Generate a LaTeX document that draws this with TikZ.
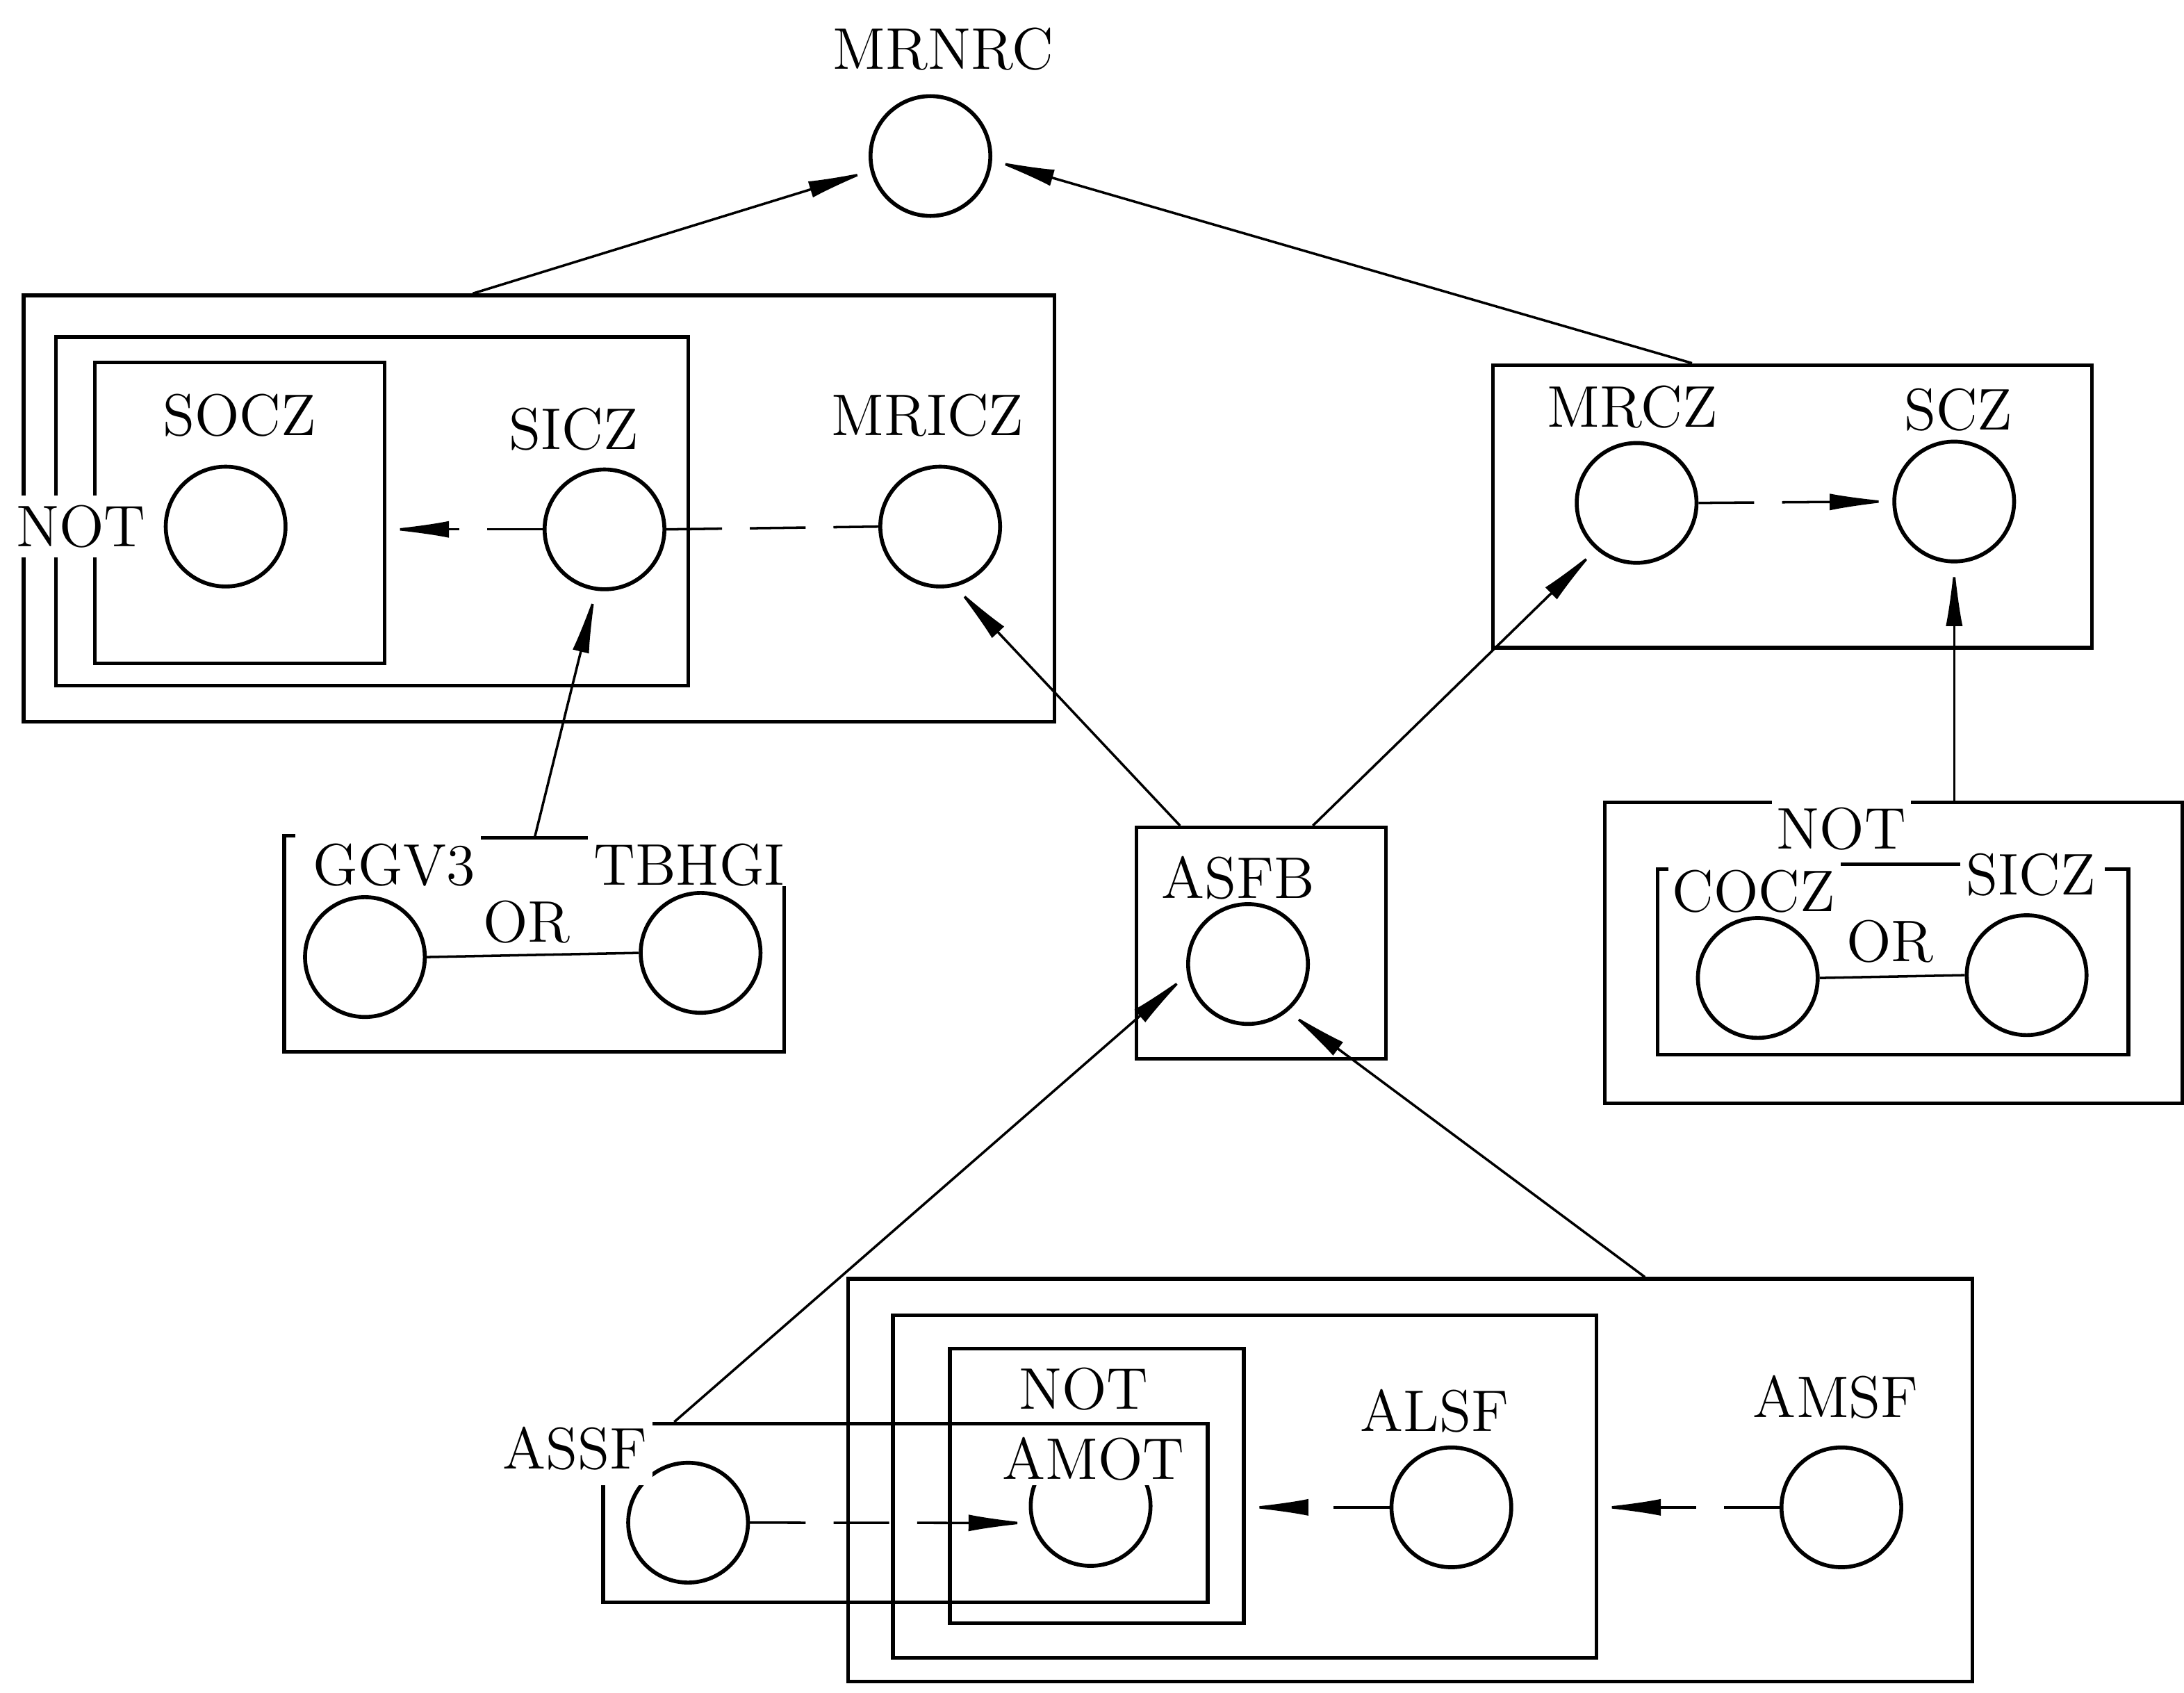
\documentclass[tikz,border=0pt]{standalone}
\usepackage{tikz}
\usetikzlibrary{calc,arrows.meta}

\begin{document}
\begin{tikzpicture}[
    unit/.style={circle, draw, line width=0.8pt, minimum size=8.6mm, inner sep=0pt},
    frame/.style={draw, line width=0.75pt, inner sep=0pt},
    tag/.style={font=\fontsize{12}{14}\selectfont, inner sep=1pt},
    mask/.style={tag, fill=white},
    link/.style={line width=0.5pt},
    dlink/.style={link, dash pattern=on 4mm off 2mm},
    tip/.style={-{Latex[length=4.5mm,width=1.2mm]}},
]

\useasboundingbox (0,0) rectangle (15.68,-12.15);

% Frames
\node[frame, minimum width=7.40cm, minimum height=3.06cm] (grpA)  at (3.87,-3.65) {};
\node[frame, minimum width=4.54cm, minimum height=2.50cm] (grpAm) at (2.67,-3.67) {};
\node[frame, minimum width=2.08cm, minimum height=2.16cm] (grpAi) at (1.72,-3.68) {};
\node[frame, minimum width=4.30cm, minimum height=2.03cm] (grpB)  at (12.87,-3.635) {};
\node[frame, minimum width=1.79cm, minimum height=1.66cm] (grpC)  at (9.055,-6.77) {};
\node[frame, minimum width=4.15cm, minimum height=2.16cm] (grpD)  at (13.595,-6.84) {};
\node[frame, minimum width=4.34cm, minimum height=1.28cm] (grpE)  at (6.50,-10.86) {};
\node[frame, minimum width=2.11cm, minimum height=1.97cm] (grpF)  at (7.875,-10.665) {};
\node[frame, minimum width=5.05cm, minimum height=2.46cm] (grpG)  at (8.935,-10.67) {};
\node[frame, minimum width=8.07cm, minimum height=2.89cm] (grpH)  at (10.125,-10.625) {};

% Units
\node[unit] (mrnrc) at (6.68,-1.12) {};
\node[unit] (socz)  at (1.62,-3.78) {};
\node[unit] (sicz)  at (4.34,-3.80) {};
\node[unit] (mricz) at (6.75,-3.78) {};
\node[unit] (mrcz)  at (11.75,-3.61) {};
\node[unit] (scz)   at (14.03,-3.60) {};
\node[unit] (ggv)   at (2.62,-6.87) {};
\node[unit] (tbhgi) at (5.03,-6.84) {};
\node[unit] (asfb)  at (8.96,-6.92) {};
\node[unit] (cocz)  at (12.62,-7.02) {};
\node[unit] (siczb) at (14.55,-7.00) {};
\node[unit] (assf)  at (4.94,-10.93) {};
\node[unit] (amot)  at (7.83,-10.81) {};
\node[unit] (alsf)  at (10.42,-10.82) {};
\node[unit] (amsf)  at (13.22,-10.82) {};

% Labels
\node[tag] (lblMRNRC) at (6.77,-0.35) {MRNRC};
\node[tag] (lblSOCZ)  at (1.72,-2.98) {SOCZ};
\node[tag] (lblSICZ)  at (4.12,-3.08) {SICZ};
\node[tag] (lblMRICZ) at (6.66,-2.98) {MRICZ};
\node[tag] (lblMRCZ)  at (11.72,-2.92) {MRCZ};
\node[tag] (lblSCZ)   at (14.06,-2.94) {SCZ};
\node[tag] (lblGGV)   at (2.83,-6.21) {GGV3};
\node[tag] (lblTBH)   at (4.95,-6.21) {TBHGI};
\node[tag] (lblORa)   at (3.78,-6.62) {OR};
\node[tag] (lblASFB)  at (8.89,-6.30) {ASFB};
\node[tag] (lblCOCZ)  at (12.59,-6.40) {COCZ};
\node[tag] (lblSICZb) at (14.58,-6.28) {SICZ};
\node[tag] (lblORb)   at (13.57,-6.76) {OR};
\node[tag] (lblNOTc)  at (7.78,-9.97) {NOT};
\node[tag] (lblALSF)  at (10.30,-10.13) {ALSF};
\node[tag] (lblAMSF)  at (13.18,-10.03) {AMSF};

% Connectors
\draw[link, tip] ($(grpA.north west)!0.436!(grpA.north east)$) -- (mrnrc.194);
\draw[link, tip] ($(grpB.north west)!0.333!(grpB.north east)$) -- (mrnrc.-4);
\draw[dlink, tip] (sicz.west) -- (sicz.west -| grpAi.east);
\draw[dlink] (sicz.east) -- (mricz.west);
\draw[link, tip] ($(grpC.north west)!0.179!(grpC.north east)$) -- (mricz.-76);
\draw[link, tip] ($(grpC.north west)!0.704!(grpC.north east)$) -- (mrcz.229);
\draw[dlink, tip] (mrcz.east) -- (scz.west);
\draw[link, tip] (scz.south |- grpD.north) -- (scz.south);
\draw[link] (ggv.east) -- (tbhgi.west);
\draw[link] (cocz.east) -- (siczb.west);
\draw[link, tip] ($(grpE.north west)!0.12!(grpE.north east)$) -- (asfb.190);
\draw[link, tip] ($(grpH.north west)!0.708!(grpH.north east)$) -- (asfb.-50);
\draw[dlink, tip] (assf.east) -- (amot.196);
\draw[dlink, tip] (alsf.west) -- (alsf.west -| grpF.east);
\draw[dlink, tip] (amsf.west) -- (amsf.west -| grpG.east);

% Labels over frame edges
\node[mask, inner ysep=2pt] (lblNOTa) at (0.58,-3.78) {NOT};
\node[mask, inner ysep=3pt] (lblNOTb) at (13.22,-5.95) {NOT};
\node[mask, inner ysep=3pt] (lblASSF) at (4.13,-10.40) {ASSF};
\node[mask] (lblAMOT) at (7.85,-10.47) {AMOT};

% OR groups (bracketed frames)
\draw[line width=0.75pt] (2.12,-6.00) -- (2.04,-6.00) -- (2.04,-7.55) -- (5.63,-7.55) -- (5.63,-6.36);
\draw[line width=0.75pt] (lblGGV.north east) -- (lblTBH.north west);
\coordinate (orAtop) at ($(lblGGV.north east)!0.5!(lblTBH.north west)$);
\draw[link, tip] (orAtop) -- (sicz.-98);
\draw[line width=0.75pt] (11.98,-6.24) -- (11.90,-6.24) -- (11.90,-7.57) -- (15.28,-7.57) -- (15.28,-6.24) -- (15.11,-6.24);
\draw[line width=0.75pt] (lblCOCZ.north east) -- (lblSICZb.west |- lblCOCZ.north);

\end{tikzpicture}
\end{document}
